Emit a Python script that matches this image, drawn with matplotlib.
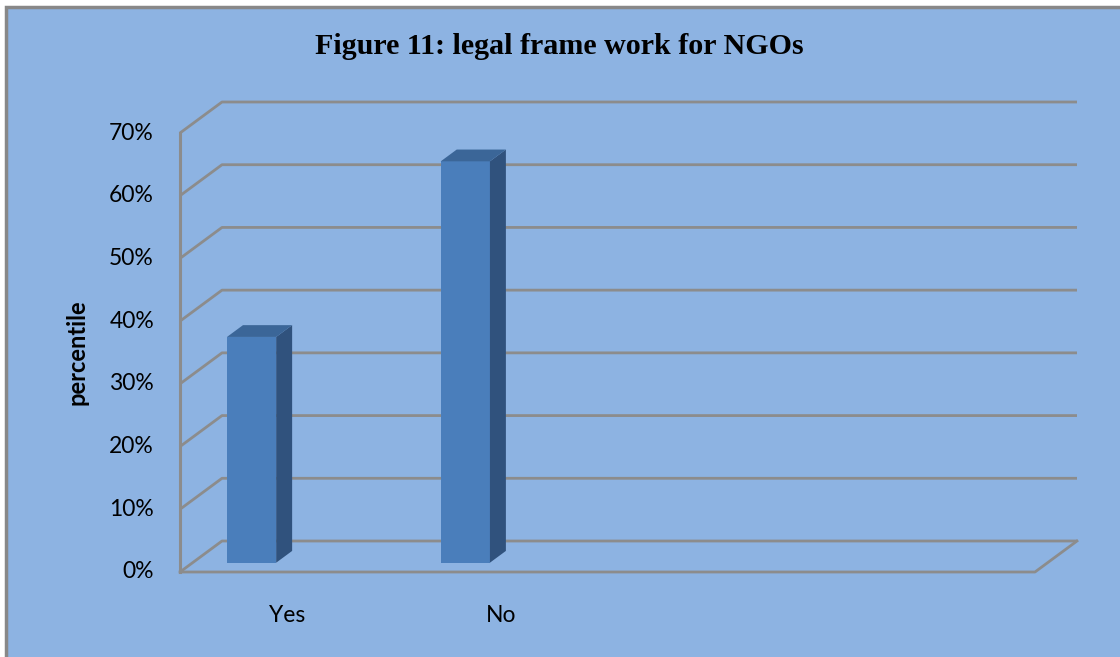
import matplotlib.pyplot as plt
from matplotlib.patches import Polygon, Rectangle

categories = ['Yes', 'No', '', '']
values = [36, 64, 0, 0]
yticks = [0, 10, 20, 30, 40, 50, 60, 70]
title = 'Figure 11: legal frame work for NGOs'
ylabel = 'percentile'

bg = '#8DB3E2'
grid_c = '#8C8C8C'
front_c = '#4A7EBB'
top_c = '#3B6698'
side_c = '#30527D'

fig = plt.figure(figsize=(11.2, 6.57), dpi=100)
fig.patch.set_facecolor('white')
ax = fig.add_axes([0, 0, 1, 1])
ax.set_facecolor('none')
ax.axis('off')

# pixel mapping: x 0 -> 180px, 4 -> 1035px ; y 0% -> 572px, 70% -> 133px (from top)
px_x = (1035 - 180) / 4
px_y = (572 - 133) / 70
ax.set_xlim(-180 / px_x, (1120 - 180) / px_x)
ax.set_ylim(-(657 - 572) / px_y, 572 / px_y)

# depth offset of the back wall
DX = 42 / px_x
DY = 31 / px_y

# chart area background + border
ax.add_patch(Rectangle((6 / 1120, -0.2), 1.2, 1.2 - 7 / 657, transform=fig.transFigure,
                       facecolor=bg, edgecolor='#888888', lw=2.5, zorder=0, clip_on=False))

n = len(categories)
top = yticks[-1]

# gridlines: side wall diagonal + back wall horizontal
for t in yticks:
    ax.plot([0, DX, n + DX], [t, t + DY, t + DY], color=grid_c, lw=2, solid_capstyle='butt', zorder=1)
# front vertical axis line
ax.plot([0, 0], [0, top], color=grid_c, lw=2.2, zorder=1)
# floor outline
ax.plot([0, n, n + DX], [0, 0, DY], color=grid_c, lw=2, zorder=1)

# bars (placed at mid depth)
d0, d1 = 0.3, 0.68
w = 0.23
for i, v in enumerate(values):
    if v <= 0:
        continue
    x0 = i + 0.5 - w / 2 - 0.224 + d0 * DX
    x1 = x0 + w
    yb = d0 * DY
    yt = v + d0 * DY
    ddx = (d1 - d0) * DX
    ddy = (d1 - d0) * DY
    ax.add_patch(Polygon([(x0, yb), (x1, yb), (x1, yt), (x0, yt)], closed=True,
                         facecolor=front_c, edgecolor='none', zorder=3))
    ax.add_patch(Polygon([(x1, yb), (x1 + ddx, yb + ddy), (x1 + ddx, yt + ddy), (x1, yt)], closed=True,
                         facecolor=side_c, edgecolor='none', zorder=3))
    ax.add_patch(Polygon([(x0, yt), (x1, yt), (x1 + ddx, yt + ddy), (x0 + ddx, yt + ddy)], closed=True,
                         facecolor=top_c, edgecolor='none', zorder=3))

# tick labels
for t in yticks:
    ax.text(-26 / px_x, t, f'{t}%', ha='right', va='center', fontsize=16.5, family='Lato', color='black')
for i, c in enumerate(categories):
    if c:
        ax.text(i + 0.5, -43 / px_y, c, ha='center', va='center', fontsize=16.5, family='Lato', color='black')

ax.text(-103 / px_x, 35, ylabel, rotation=90, ha='center', va='center', fontsize=17,
        family='Lato', fontweight='bold', color='black')

fig.text(559 / 1120, 1 - 46 / 657, title, ha='center', va='center', fontsize=21.6,
         family='Liberation Serif', fontweight='bold', color='black')

fig.savefig('out.png', dpi=100, facecolor=fig.get_facecolor())
